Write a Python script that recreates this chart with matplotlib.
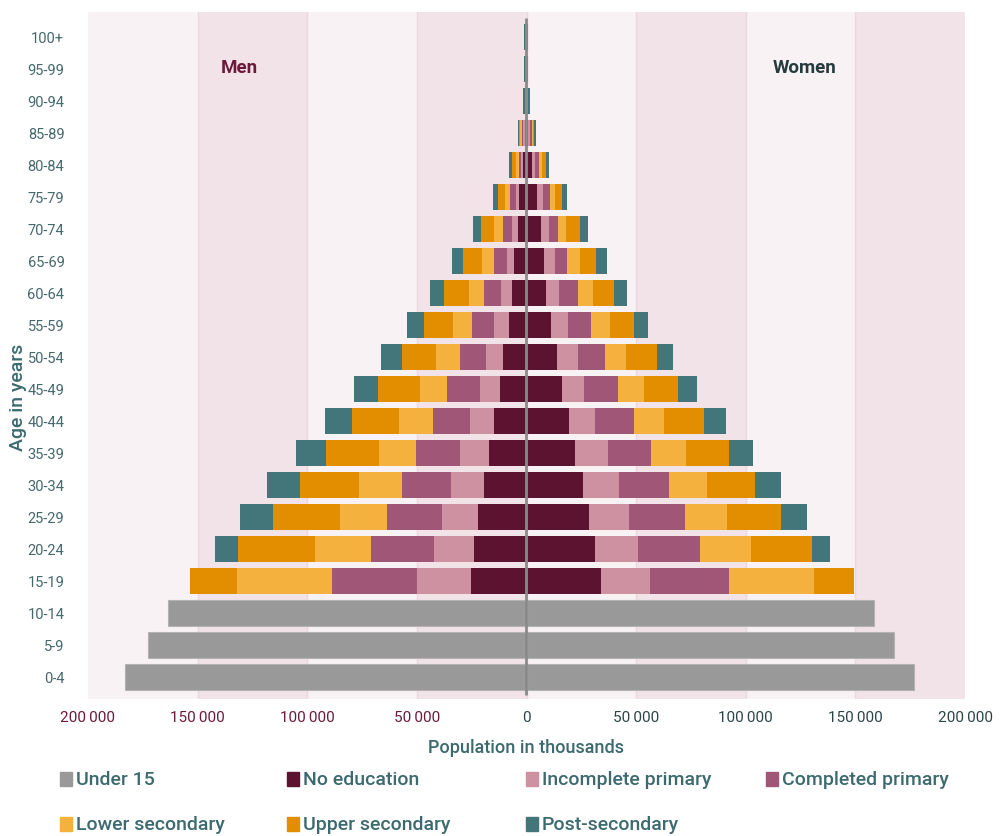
import matplotlib
matplotlib.use("Agg")
import matplotlib.pyplot as plt
from matplotlib.patches import Rectangle
import numpy as np

plt.rcParams['font.family'] = ['Roboto', 'DejaVu Sans']

ages = ["0-4", "5-9", "10-14", "15-19", "20-24", "25-29", "30-34", "35-39", "40-44",
        "45-49", "50-54", "55-59", "60-64", "65-69", "70-74", "75-79", "80-84",
        "85-89", "90-94", "95-99", "100+"]

categories = ["Under 15", "No education", "Incomplete primary", "Completed primary",
              "Lower secondary", "Upper secondary", "Post-secondary"]

# Men (population in thousands)
men_under15 = [182900, 172800, 163700, 0, 0, 0, 0, 0, 0, 0, 0, 0, 0, 0, 0, 0, 0, 0, 0, 0, 0]
men_noedu   = [0, 0, 0, 25500, 24100, 22300, 19600, 17300, 15000, 12300, 10500, 8200, 6800, 5500, 4100, 3200, 1800, 900, 100, 50, 50]
men_incomp  = [0, 0, 0, 24600, 18200, 16400, 15000, 13200, 10900, 9100, 8200, 6800, 5000, 3600, 2700, 1400, 900, 500, 100, 50, 50]
men_comp    = [0, 0, 0, 38700, 28700, 25000, 22300, 20000, 16800, 15000, 11800, 10000, 7700, 5900, 4100, 2700, 900, 700, 100, 50, 50]
men_lower   = [0, 0, 0, 43200, 25500, 21400, 19600, 16800, 15500, 12300, 10900, 8600, 6800, 5500, 4100, 2700, 1400, 700, 100, 50, 50]
men_upper   = [0, 0, 0, 21400, 35000, 30500, 26800, 24100, 21400, 19100, 15500, 13200, 11400, 8600, 5900, 3200, 1800, 500, 100, 50, 50]
men_post    = [0, 0, 0, 0, 10500, 15000, 15000, 13700, 12300, 10900, 9600, 7700, 6400, 5000, 3600, 2300, 1400, 500, 1000, 700, 700]

# Women (population in thousands)
women_under15 = [176900, 167600, 158300, 0, 0, 0, 0, 0, 0, 0, 0, 0, 0, 0, 0, 0, 0, 0, 0, 0, 0]
women_noedu   = [0, 0, 0, 34100, 31400, 28700, 25900, 22300, 19600, 16400, 13700, 11400, 9100, 8200, 6800, 5000, 2700, 900, 100, 50, 50]
women_incomp  = [0, 0, 0, 22300, 19600, 18200, 16400, 15000, 11800, 10000, 9600, 7700, 5900, 4600, 3600, 2300, 1400, 700, 100, 50, 50]
women_comp    = [0, 0, 0, 35900, 28200, 25500, 22800, 19600, 17700, 15500, 12300, 10500, 8600, 5900, 4100, 3200, 1400, 700, 100, 50, 50]
women_lower   = [0, 0, 0, 38700, 23200, 19100, 17300, 15900, 13700, 11800, 10000, 8600, 6800, 5900, 3600, 2300, 1400, 500, 100, 50, 50]
women_upper   = [0, 0, 0, 18200, 27800, 24600, 21800, 19600, 18200, 15500, 13700, 10900, 9600, 7300, 6400, 3600, 1800, 700, 100, 50, 50]
women_post    = [0, 0, 0, 0, 8200, 11800, 11800, 10900, 10000, 8600, 7300, 6400, 5900, 5000, 3600, 2300, 1400, 700, 1200, 300, 500]

xticks = [-200000, -150000, -100000, -50000, 0, 50000, 100000, 150000, 200000]
xtick_labels = ["200\u2009000", "150\u2009000", "100\u2009000", "50\u2009000", "0",
                "50\u2009000", "100\u2009000", "150\u2009000", "200\u2009000"]

colors = ["#999999", "#5c1330", "#cd91a2", "#a05677", "#f4b13e", "#e38d00", "#43767a"]

men = [men_under15, men_noedu, men_incomp, men_comp, men_lower, men_upper, men_post]
women = [women_under15, women_noedu, women_incomp, women_comp, women_lower, women_upper, women_post]

fig = plt.figure(figsize=(10.02, 8.37), dpi=100)
ax = fig.add_axes([88/1002, 1 - 700/837, 877/1002, 687/837])

# background bands
band_light = "#f9f2f5"
band_dark = "#f2e3e8"
edges = np.arange(-200000, 200001, 50000)
for i in range(len(edges) - 1):
    c = band_light if i % 2 == 0 else band_dark
    ax.axvspan(edges[i], edges[i + 1], color=c, zorder=0, lw=0)
for e in edges[1:-1]:
    ax.axvline(e, color="#ecd8df", lw=1, zorder=0.5)

y = np.arange(len(ages))
h = 0.81
cum_m = np.zeros(len(ages))
cum_w = np.zeros(len(ages))
for k, (vm, vw) in enumerate(zip(men, women)):
    vm = np.array(vm, dtype=float)
    vw = np.array(vw, dtype=float)
    ec = "#b3b3b3" if k == 0 else "none"
    lw = 0.8 if k == 0 else 0
    ax.barh(y, -vm, left=-cum_m, height=h, color=colors[k], edgecolor=ec, linewidth=lw, zorder=2)
    ax.barh(y, vw, left=cum_w, height=h, color=colors[k], edgecolor=ec, linewidth=lw, zorder=2)
    cum_m += vm
    cum_w += vw

ax.plot([-400, -400], [-0.55, 20.6], color="#8a8a8a", lw=2, zorder=5, solid_capstyle="butt")

ax.set_xlim(-200000, 200000)
ax.set_ylim(-0.69, 20.78)
for s in ax.spines.values():
    s.set_visible(False)
ax.tick_params(length=0)
ax.set_yticks(y)
ax.set_yticklabels(ages, fontsize=10.5, color="#45686d")
ax.tick_params(axis="y", pad=17)
ax.set_xticks(xticks)
ax.set_xticklabels(xtick_labels, fontsize=11)
ax.tick_params(axis="x", pad=8)
for i, t in enumerate(ax.get_xticklabels()):
    t.set_color("#6b1a3c" if i < 4 else "#2c4448")

ax.set_xlabel("Population in thousands", fontsize=13, color="#3c6a6f", labelpad=10,
              fontweight="medium")
fig.text(18/1002, 1 - 397/837, "Age in years", rotation=90, fontsize=14, color="#3c6a6f",
         ha="center", va="center", fontweight="medium")

ax.text(-131000, 20 - (68 - 38) / 32, "Men", fontsize=13.5, color="#6b1a3c", ha="center",
        va="center", fontweight="bold")
ax.text(127000, 20 - (68 - 38) / 32, "Women", fontsize=13.5, color="#263b3e", ha="center",
        va="center", fontweight="bold")

# legend
leg_pos = [(60, 780), (287, 780), (526, 780), (766, 780), (60, 825), (287, 825), (526, 825)]
for (px, py), lab, c in zip(leg_pos, categories, colors):
    fig.patches.append(Rectangle((px / 1002, 1 - (py + 7) / 837), 12 / 1002, 14 / 837,
                                 transform=fig.transFigure, color=c))
    fig.text((px + 16) / 1002, 1 - py / 837, lab, fontsize=14, color="#3c6a6f",
             ha="left", va="center", fontweight="medium")

fig.savefig("out.png", dpi=100)
